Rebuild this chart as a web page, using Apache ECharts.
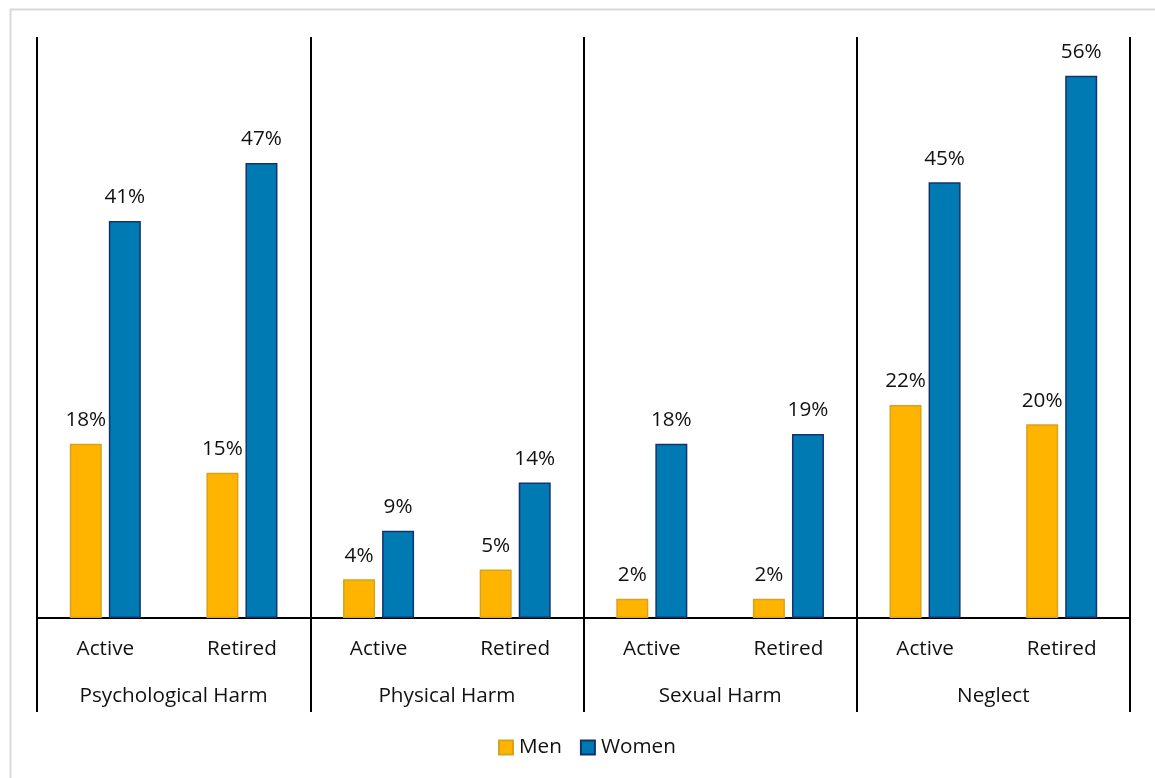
<!DOCTYPE html>
<html><head><meta charset="utf-8">
<script src="https://cdn.jsdelivr.net/npm/echarts@6/dist/echarts.min.js"></script>
<style>html,body{margin:0;padding:0;background:#fff}#c{width:1155px;height:778px}</style>
</head><body><div id="c"></div>
<script>
const statuses = ['Active','Retired','Active','Retired','Active','Retired','Active','Retired'];
const groups = ['Psychological Harm','Physical Harm','Sexual Harm','Neglect'];
const men = [18,15,4,5,2,2,22,20];
const women = [41,47,9,14,18,19,45,56];

const FONT = '"Open Sans", sans-serif';
const FS = 20.7;
const chart = echarts.init(document.getElementById('c'));
const labelCfg = {show:true, position:'top', distance:13, formatter: p => p.value + '%', fontSize:FS, color:'#111', fontFamily:FONT};
chart.setOption({
  animation:false,
  graphic:[{type:'rect', left:8, top:7, shape:{width:1170, height:800}, style:{fill:'none', stroke:'#d9d9d9', lineWidth:2}, silent:true}],
  grid:{left:37, right:25, top:37, bottom:160},
  legend:{bottom:15, left:493, itemWidth:14, itemHeight:14, itemGap:18, icon:'rect',
    textStyle:{fontSize:FS, color:'#111', fontFamily:FONT, padding:[0,0,0,1]}, data:['Men','Women']},
  xAxis:[
    {type:'category', data:statuses, position:'bottom',
     axisLine:{show:true, lineStyle:{color:'#000', width:2}}, axisTick:{show:false},
     axisLabel:{margin:21, fontSize:FS, color:'#111', fontFamily:FONT, interval:0}},
    {type:'category', data:groups, position:'bottom',
     axisLine:{show:false}, axisTick:{show:true, interval:0, length:94, lineStyle:{color:'#000', width:2}},
     splitLine:{show:true, interval:0, lineStyle:{color:'#000', width:2}},
     axisLabel:{margin:68, fontSize:FS, color:'#111', fontFamily:FONT, interval:0}}
  ],
  yAxis:{type:'value', min:0, max:60, show:false, splitLine:{show:false}},
  series:[
    {name:'Men', type:'bar', xAxisIndex:0, data:men, barWidth:32, barGap:'22%',
     itemStyle:{color:'#FFB400', borderColor:'#D9A21E', borderWidth:1.5}, label:labelCfg},
    {name:'Women', type:'bar', xAxisIndex:0, data:women, barWidth:32, barGap:'22%',
     itemStyle:{color:'#007AB3', borderColor:'#14336E', borderWidth:1.5}, label:labelCfg}
  ]
});
</script></body></html>
